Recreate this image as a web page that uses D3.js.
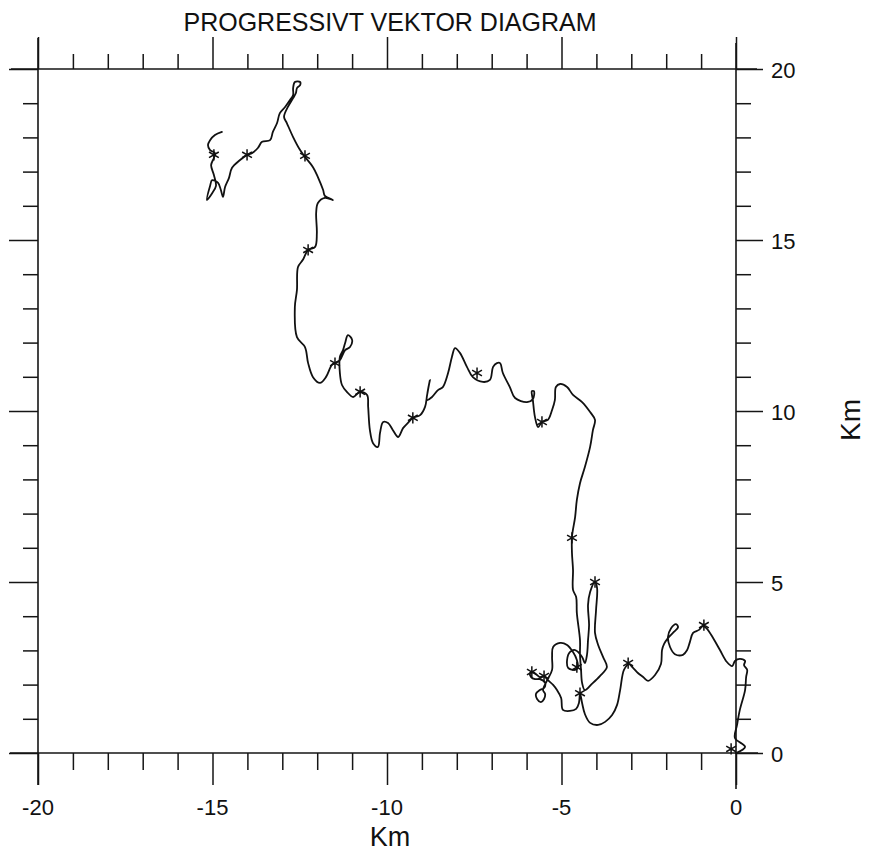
<!DOCTYPE html>
<html>
<head>
<meta charset="utf-8">
<script src="https://cdn.jsdelivr.net/npm/d3@7"></script>
<style>
  html, body { margin: 0; padding: 0; background: #fff; }
  svg { display: block; }
  text { font-family: "Liberation Sans", Arial, sans-serif; fill: #111; }
</style>
</head>
<body>
<svg id="chart" width="871" height="856"></svg>
<script>
// ---- Data (km) ----
const pathX = [0,0.26,-0.03,0.03,0.11,0.26,0.29,0.32,0.23,0.26,0.11,-0.03,-0.11,-0.26,-0.46,-0.69,-0.83,-0.95,-1.06,-1.23,-1.32,-1.40,-1.52,-1.75,-1.89,-1.95,-1.86,-1.72,-1.66,-1.78,-1.95,-2.06,-2.12,-2.15,-2.32,-2.52,-2.66,-2.81,-2.95,-3.07,-3.21,-3.32,-3.41,-3.55,-3.75,-3.95,-4.18,-4.33,-4.41,-4.47,
-4.50,-4.58,-4.76,-4.96,-5.01,-5.13,-5.24,-5.39,-5.50,-5.62,-5.70,-5.82,-5.90,-5.87,-5.76,-5.62,-5.47,-5.50,-5.62,-5.73,-5.70,-5.59,-5.50,-5.47,-5.53,-5.42,-5.27,-5.27,-5.24,-5.04,-4.84,-4.67,-4.56,-4.53,-4.61,-4.81,-4.84,-4.76,-4.61,-4.41,-4.33,-4.27,-4.24,-4.21,-4.24,-4.18,-4.04,-3.98,-4.01,-4.04,
-3.95,-3.81,-3.70,-3.90,-4.13,-4.33,-4.41,-4.44,-4.47,-4.47,-4.56,-4.58,-4.67,-4.67,-4.70,-4.70,-4.61,-4.56,-4.47,-4.33,-4.18,-4.10,-4.04,-4.18,-4.41,-4.67,-4.84,-5.04,-5.16,-5.19,-5.27,-5.39,-5.56,-5.67,-5.76,-5.82,-5.85,-5.79,-5.82,-5.99,-6.33,-6.48,-6.68,-6.76,-6.85,-6.96,-7.05,-7.25,-7.54,-7.71,
-7.91,-8.05,-8.14,-8.25,-8.40,-8.54,-8.71,-8.85,-8.77,-8.85,-8.91,-9.05,-9.26,-9.40,-9.54,-9.68,-9.83,-9.97,-10.11,-10.20,-10.26,-10.40,-10.49,-10.54,-10.57,-10.77,-10.97,-11.15,-11.29,-11.35,-11.35,-11.26,-11.20,-11.12,-11.00,-11.06,-11.20,-11.35,-11.49,-11.58,-11.75,-11.92,-12.12,-12.26,-12.35,-12.58,-12.64,-12.58,-12.55,-12.41,
-12.26,-12.06,-12.01,-12.03,-11.98,-11.78,-11.55,-11.78,-11.83,-11.98,-12.12,-12.35,-12.49,-12.69,-12.87,-12.95,-12.84,-12.69,-12.61,-12.58,-12.49,-12.49,-12.64,-12.69,-12.69,-12.78,-12.92,-13.07,-13.15,-13.27,-13.35,-13.58,-13.70,-13.87,-14.01,-14.21,-14.44,-14.53,-14.64,-14.70,-14.76,-14.84,-15.01,-15.07,-15.16,-15.01,-14.90,-14.96,-15.04,-14.96,
-14.93,-15.07,-15.13,-15.07,-14.93,-14.73];

const pathY = [0,0.18,0.44,0.82,1.26,1.84,2.22,2.43,2.57,2.69,2.75,2.69,2.54,2.66,3.01,3.42,3.63,3.71,3.60,3.51,3.25,3.01,2.87,2.89,3.10,3.39,3.65,3.77,3.68,3.54,3.36,3.19,3.01,2.60,2.28,2.11,2.22,2.34,2.49,2.60,2.43,1.84,1.40,1.11,0.91,0.82,0.88,1.14,1.46,1.75,
1.46,1.29,1.23,1.26,1.61,1.84,1.99,2.13,2.25,2.22,2.28,2.37,2.34,2.22,2.16,2.16,2.05,1.90,1.84,1.73,1.58,1.49,1.58,1.73,1.84,2.11,2.43,2.81,3.10,3.22,3.16,2.95,2.72,2.51,2.43,2.49,2.72,2.95,3.01,2.81,2.63,2.87,3.30,3.74,4.33,4.71,5.00,4.82,4.18,3.51,
3.16,2.81,2.51,2.25,2.02,1.84,2.05,2.43,2.87,3.30,4.09,4.56,4.77,5.35,5.85,6.32,6.90,7.40,7.89,8.36,8.95,9.44,9.74,9.97,10.26,10.47,10.70,10.79,10.70,10.32,10.03,9.74,9.68,9.53,9.82,10.32,10.58,10.58,10.35,10.26,10.38,10.70,11.11,11.40,11.40,11.29,10.91,10.85,10.99,11.29,
11.70,11.84,11.58,11.11,10.70,10.61,10.41,10.32,10.91,10.47,10.12,9.88,9.80,9.65,9.50,9.24,9.44,9.65,9.68,9.36,8.95,9.06,9.44,10.12,10.47,10.56,10.41,10.56,10.76,11.11,11.58,11.78,11.99,12.22,12.08,11.87,11.78,11.49,11.40,11.35,10.99,10.82,10.99,11.40,11.87,12.16,13.04,13.54,14.21,14.42,
14.71,14.80,15.20,15.79,16.08,16.23,16.17,16.29,16.46,16.84,17.13,17.43,17.63,18.01,18.42,18.60,18.89,19.15,19.30,19.44,19.53,19.62,19.62,19.44,19.24,19.09,18.89,18.71,18.42,18.16,17.92,17.87,17.69,17.54,17.49,17.34,17.11,16.81,16.55,16.26,16.46,16.67,16.75,16.58,16.17,16.37,16.58,16.90,17.19,17.40,
17.54,17.63,17.78,17.92,18.07,18.16];

// daily markers (asterisks)
const markX = [-0.14,-0.92,-3.09,-4.04,-4.70,-4.56,-4.47,-5.50,-5.85,-5.56,-7.42,-9.26,-10.77,-11.49,-12.26,-12.35,-14.01,-14.96];
const markY = [0.12,3.74,2.63,5.00,6.29,2.51,1.75,2.25,2.37,9.68,11.11,9.80,10.56,11.40,14.71,17.46,17.49,17.49];

// ticks
const xMajor = [-20,-15,-10,-5,0];
const xMinor = [-19,-18,-17,-16,-14,-13,-12,-11,-9,-8,-7,-6,-4,-3,-2,-1];
const yMajor = [0,5,10,15,20];
const yMinor = [1,2,3,4,6,7,8,9,11,12,13,14,16,17,18,19];

const title = "PROGRESSIVT VEKTOR DIAGRAM";
const xTitle = "Km";
const yTitle = "Km";

// ---- Drawing ----
const svg = d3.select("#chart");
svg.append("rect").attr("width", 871).attr("height", 856).attr("fill", "#fff");

const x = d3.scaleLinear().domain([-20, 0]).range([38, 736]);
const y = d3.scaleLinear().domain([0, 20]).range([753, 69]);

const axisColor = "#151515";
const majorLen = 29, minorLen = 15;

function styleAxis(g) {
  g.select(".domain").remove();
  g.selectAll(".tick line").attr("stroke", axisColor).attr("stroke-width", 1.5);
  g.selectAll(".tick text").remove();
}

// top
svg.append("g").attr("transform", `translate(0,${y(20)})`)
  .call(d3.axisTop(x).tickValues(xMinor).tickSize(minorLen)).call(styleAxis);
svg.append("g").attr("transform", `translate(0,${y(20)})`)
  .call(d3.axisTop(x).tickValues(xMajor).tickSize(majorLen + 3)).call(styleAxis);
// bottom
svg.append("g").attr("transform", `translate(0,${y(0)})`)
  .call(d3.axisBottom(x).tickValues(xMinor).tickSize(minorLen + 2)).call(styleAxis);
svg.append("g").attr("transform", `translate(0,${y(0)})`)
  .call(d3.axisBottom(x).tickValues(xMajor).tickSize(majorLen + 3)).call(styleAxis);
// left
svg.append("g").attr("transform", `translate(${x(-20)},0)`)
  .call(d3.axisLeft(y).tickValues(yMinor).tickSize(minorLen)).call(styleAxis);
svg.append("g").attr("transform", `translate(${x(-20)},0)`)
  .call(d3.axisLeft(y).tickValues(yMajor).tickSize(majorLen)).call(styleAxis);
// right
svg.append("g").attr("transform", `translate(${x(0)},0)`)
  .call(d3.axisRight(y).tickValues(yMinor).tickSize(minorLen)).call(styleAxis);
svg.append("g").attr("transform", `translate(${x(0)},0)`)
  .call(d3.axisRight(y).tickValues(yMajor).tickSize(majorLen - 2)).call(styleAxis);

// frame lines, extended past corners
const frame = svg.append("g").attr("stroke", axisColor).attr("stroke-width", 1.6);
frame.append("line").attr("x1", x(-20) - 27).attr("x2", x(0) + 21).attr("y1", y(20)).attr("y2", y(20));
frame.append("line").attr("x1", x(-20) - 28).attr("x2", x(0) + 22).attr("y1", y(0)).attr("y2", y(0));
frame.append("line").attr("x1", x(-20)).attr("x2", x(-20)).attr("y1", y(20) - 31).attr("y2", y(0) + 32);
frame.append("line").attr("x1", x(0)).attr("x2", x(0)).attr("y1", y(20) - 26).attr("y2", y(0) + 36);

// tick labels
svg.append("g").selectAll("text").data(xMajor).join("text")
  .attr("x", d => x(d)).attr("y", y(0) + 62)
  .attr("text-anchor", "middle").attr("font-size", 22)
  .text(d => d);
svg.append("g").selectAll("text").data(yMajor).join("text")
  .attr("x", x(0) + 35).attr("y", d => y(d) + 9)
  .attr("text-anchor", "start").attr("font-size", 22)
  .text(d => d);

// titles
svg.append("text").attr("x", 390).attr("y", 31).attr("text-anchor", "middle")
  .attr("font-size", 25).text(title);
svg.append("text").attr("x", 390).attr("y", 846).attr("text-anchor", "middle")
  .attr("font-size", 27).text(xTitle);
svg.append("text").attr("transform", "translate(860,420) rotate(-90)")
  .attr("text-anchor", "middle").attr("font-size", 28).text(yTitle);

// trajectory
const pts = pathX.map((v, i) => [v, pathY[i]]);
const line = d3.line().x(d => x(d[0])).y(d => y(d[1])).curve(d3.curveCatmullRom.alpha(0.5));
svg.append("path").datum(pts).attr("d", line)
  .attr("fill", "none").attr("stroke", "#111").attr("stroke-width", 1.8)
  .attr("stroke-linejoin", "round").attr("stroke-linecap", "round");

// markers
const sym = d3.symbol().type(d3.symbolAsterisk).size(90);
svg.append("g").selectAll("path").data(markX.map((v, i) => [v, markY[i]])).join("path")
  .attr("transform", d => `translate(${x(d[0])},${y(d[1])})`)
  .attr("d", sym).attr("fill", "none").attr("stroke", "#111").attr("stroke-width", 1.5);
</script>
</body>
</html>
